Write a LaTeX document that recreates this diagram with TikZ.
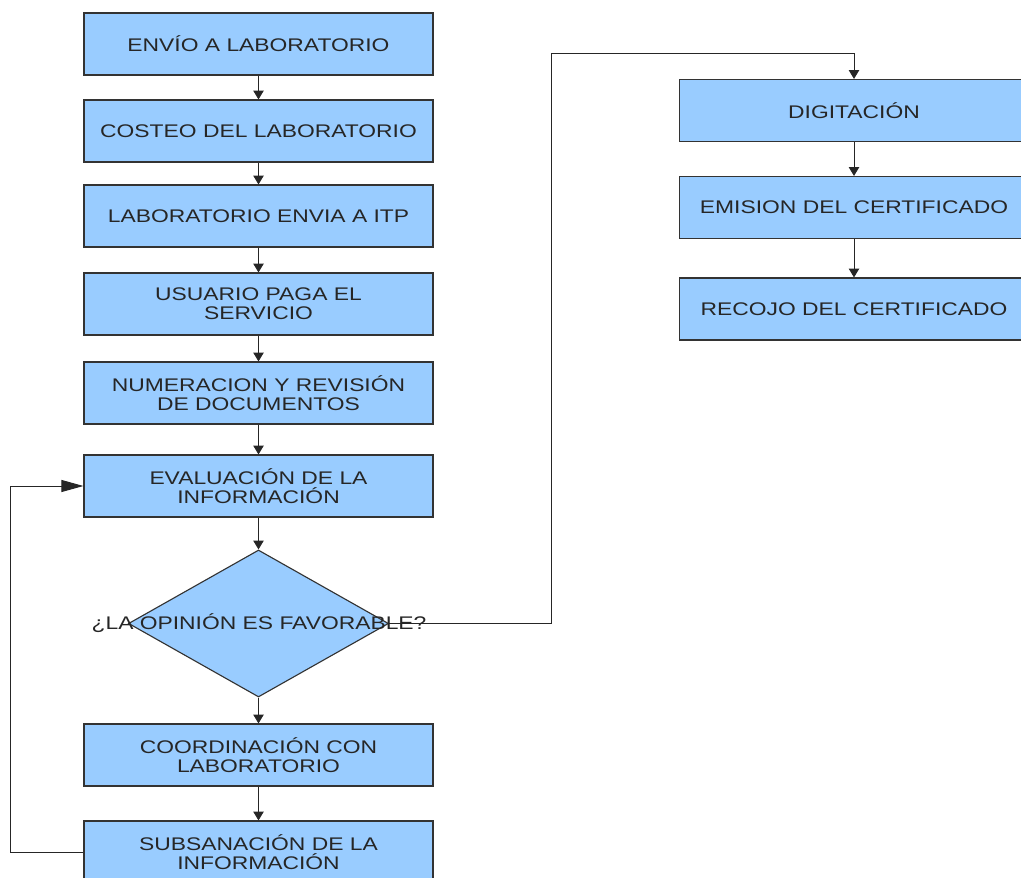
\documentclass[tikz,border=0pt]{standalone}
\usepackage{fontspec}
\setmainfont{Liberation Sans}[FakeStretch=1.25]
\usetikzlibrary{arrows.meta,shapes.geometric}

\definecolor{boxblue}{HTML}{99CCFF}
\definecolor{boxline}{HTML}{333333}

\begin{document}
\begin{tikzpicture}[
    x=0.025cm, y=-0.025cm,
    stepbox/.style={draw=boxline, line width=0.8pt, rectangle, fill=boxblue, minimum width=8.725cm, minimum height=1.55cm, inner sep=0pt, align=center, font=\fontsize{13}{13.5}\selectfont, text=black!85},
    decision/.style={draw=boxline, line width=0.8pt, diamond, fill=boxblue, minimum width=6.5cm, minimum height=3.675cm, inner sep=0pt},
    arrow/.style={-{Triangle[length=0.22cm, width=0.26cm]}, line width=0.7pt, black!85},
    bigarrow/.style={-{Triangle[length=0.55cm, width=0.3cm]}, line width=0.7pt, black!85}
]

\path[use as bounding box, clip] (0,0) rectangle (1021,878);

% Left column
\node[stepbox] (envio) at (258.5, 44) {ENVÍO A LABORATORIO};
\node[stepbox] (costeo) at (258.5, 131) {COSTEO DEL LABORATORIO};
\node[stepbox] (labitp) at (258.5, 216) {LABORATORIO ENVIA A ITP};
\node[stepbox] (pago) at (258.5, 304) {USUARIO PAGA EL\\SERVICIO};
\node[stepbox] (numeracion) at (258.5, 393) {NUMERACION Y REVISIÓN\\DE DOCUMENTOS};
\node[stepbox] (evaluacion) at (258.5, 486) {EVALUACIÓN DE LA\\INFORMACIÓN};

% Decision
\node[decision] (opinion) at (258.5, 623.5) {};
\node[font=\fontsize{13}{13.5}\selectfont, text=black!85] (opiniontxt) at (259, 623) {¿LA OPINIÓN ES FAVORABLE?};

\node[stepbox] (coordinacion) at (258.5, 755) {COORDINACIÓN CON\\LABORATORIO};
\node[stepbox] (subsanacion) at (258.5, 852) {SUBSANACIÓN DE LA\\INFORMACIÓN};

% Right column
\node[stepbox] (digitacion) at (854, 110.5) {DIGITACIÓN};
\node[stepbox] (emision) at (854, 207.5) {EMISION DEL CERTIFICADO};
\node[stepbox] (recojo) at (854, 309) {RECOJO DEL CERTIFICADO};

% Helper points
\coordinate (upper) at (551, 53);
\coordinate (lower) at (10, 486);

% Arrows
\draw[arrow] (envio) -- (costeo);
\draw[arrow] (costeo) -- (labitp);
\draw[arrow] (labitp) -- (pago);
\draw[arrow] (pago) -- (numeracion);
\draw[arrow] (numeracion) -- (evaluacion);
\draw[arrow] (evaluacion) -- (opinion);
\draw[arrow] (opinion) -- (coordinacion);
\draw[arrow] (coordinacion) -- (subsanacion);

\draw[arrow] (opinion.east) -| (upper) -| (digitacion.north);
\draw[arrow] (digitacion) -- (emision);
\draw[arrow] (emision) -- (recojo);

% Loop back
\draw[bigarrow] (subsanacion.west) -| (lower) -- (evaluacion.west);

\end{tikzpicture}
\end{document}
